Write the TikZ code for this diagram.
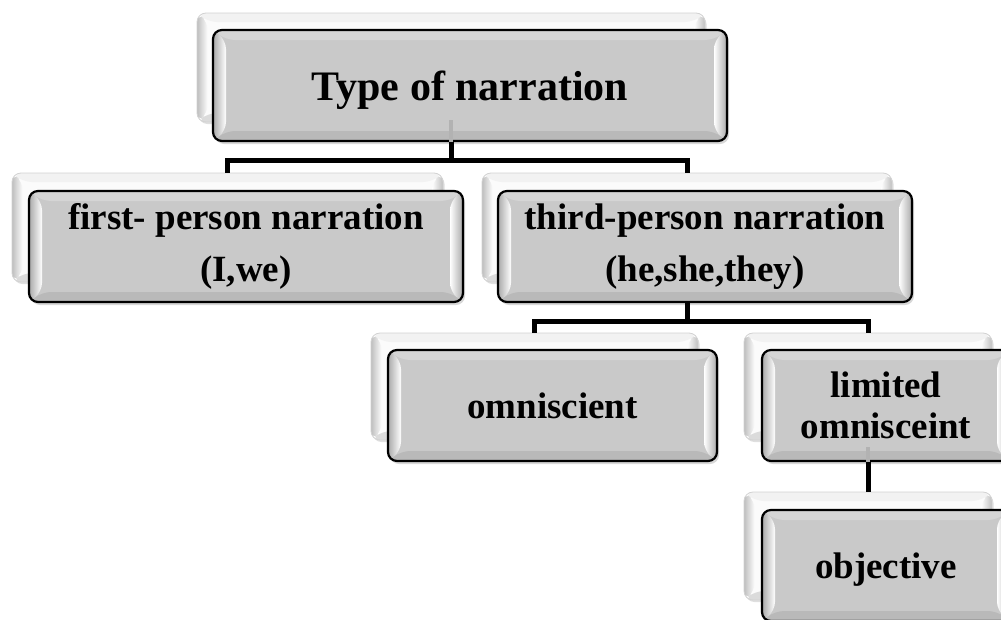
\documentclass[tikz,border=0pt]{standalone}
\usepackage{fontspec}
\setmainfont{Liberation Serif}
\usetikzlibrary{shadows,calc}
\definecolor{boxgray}{HTML}{C9C9C9}
\definecolor{bevtop}{HTML}{D5D5D5}
\definecolor{bevbot}{HTML}{B9B9B9}
\definecolor{bevside}{HTML}{A9A9A9}
\definecolor{backedge}{HTML}{BEBEBE}
\tikzset{
  bevel/.style={path picture={
    \coordinate (pSW) at (path picture bounding box.south west);
    \coordinate (pNE) at (path picture bounding box.north east);
    \coordinate (pNW) at (pSW |- pNE);
    \coordinate (pSE) at (pNE |- pSW);
    \fill[bevtop] (pNW) -- (pNE) -- ($(pNE)+(-13pt,-10pt)$) -- ($(pNW)+(13pt,-10pt)$) -- cycle;
    \fill[bevbot] (pSW) -- (pSE) -- ($(pSE)+(-13pt,10pt)$) -- ($(pSW)+(13pt,10pt)$) -- cycle;
    \shade[left color=bevside, right color=white] (pNW) -- ($(pNW)+(13pt,-10pt)$) -- ($(pSW)+(13pt,10pt)$) -- (pSW) -- cycle;
    \shade[left color=white, right color=bevside] (pNE) -- ($(pNE)+(-13pt,-10pt)$) -- ($(pSE)+(-13pt,10pt)$) -- (pSE) -- cycle;
  }},
  backbevel/.style={path picture={
    \coordinate (pSW) at (path picture bounding box.south west);
    \coordinate (pNE) at (path picture bounding box.north east);
    \coordinate (pNW) at (pSW |- pNE);
    \coordinate (pSE) at (pNE |- pSW);
    \fill[gray!10] (pNW) -- (pNE) -- ($(pNE)+(-11pt,-9pt)$) -- ($(pNW)+(11pt,-9pt)$) -- cycle;
    \fill[gray!28] (pSW) -- (pSE) -- ($(pSE)+(-11pt,9pt)$) -- ($(pSW)+(11pt,9pt)$) -- cycle;
    \shade[left color=backedge, right color=white] (pNW) -- ($(pNW)+(11pt,-9pt)$) -- ($(pSW)+(11pt,9pt)$) -- (pSW) -- cycle;
    \shade[left color=white, right color=backedge] (pNE) -- ($(pNE)+(-11pt,-9pt)$) -- ($(pSE)+(-11pt,9pt)$) -- (pSE) -- cycle;
  }},
  backbox/.style={rectangle, rounded corners=9pt, draw=gray!35, line width=0.8pt,
    fill=gray!3, backbevel, inner sep=0pt,
    drop shadow={shadow xshift=1.5pt, shadow yshift=-2pt, opacity=.25, fill=gray}},
  frontbox/.style={rectangle, rounded corners=9pt, draw=black, line width=2.2pt,
    fill=boxgray, bevel, inner sep=0pt, align=center, text=black,
    drop shadow={shadow xshift=2pt, shadow yshift=-3pt, opacity=.3, fill=gray},
    font=\fontsize{37}{52}\selectfont\bfseries},
  conn/.style={draw=black, line width=5pt, line join=miter},
  faint/.style={draw=gray!60, line width=4pt},
}
\begin{document}
\begin{tikzpicture}[x=1pt,y=-1pt]
\useasboundingbox (0,0) rectangle (1001,619);
\fill[white] (0,0) rectangle (1001,619);

% back boxes
\node[backbox, minimum width=508pt, minimum height=109pt] (titleback) at (451,67.5) {};
\node[backbox, minimum width=431pt, minimum height=109pt] (firstback) at (227.5,227.5) {};
\node[backbox, minimum width=410pt, minimum height=109pt] (thirdback) at (687,227.5) {};
\node[backbox, minimum width=327pt, minimum height=107pt] (omniback) at (534.5,386.5) {};
\node[backbox, minimum width=248pt, minimum height=107pt] (limback) at (868,386.5) {};
\node[backbox, minimum width=248pt, minimum height=108pt] (objback) at (868,546) {};

% front boxes
\node[frontbox, minimum width=514pt, minimum height=111pt, font=\fontsize{42}{48}\selectfont\bfseries] (title) at (470,85.5) {\raisebox{-5pt}[\height][\depth]{Type of narration}};
\node[frontbox, minimum width=434pt, minimum height=111pt] (first) at (246,246.5) {first- person narration\\(I,we)};
\node[frontbox, minimum width=414pt, minimum height=111pt] (third) at (705,246.5) {third-person narration\\(he,she,they)};
\node[frontbox, minimum width=329pt, minimum height=111pt] (omni) at (552.5,405.5) {omniscient};
\node[frontbox, minimum width=248pt, minimum height=111pt, font=\fontsize{37}{41}\selectfont\bfseries] (lim) at (886,405.5) {limited\\omnisceint};
\node[frontbox, minimum width=248pt, minimum height=111pt] (obj) at (886,565.5) {\raisebox{-4pt}[\height][\depth]{objective}};

% connectors
\draw[faint] (titleback.south |- title.south) -- ++(0,-22);
\draw[conn] (titleback.south |- title.south) -- ++(0,18) -| (firstback.north);
\draw[conn] (titleback.south |- title.south) ++(0,18) -| (thirdback.north);
\draw[conn] (thirdback.south |- third.south) -- ++(0,18) -| (omniback.north);
\draw[conn] (thirdback.south |- third.south) ++(0,18) -| (limback.north);
\draw[faint] (limback.south |- lim.south) -- ++(0,-15);
\draw[conn] (limback.south |- lim.south) -- (objback.north);
\end{tikzpicture}
\end{document}
